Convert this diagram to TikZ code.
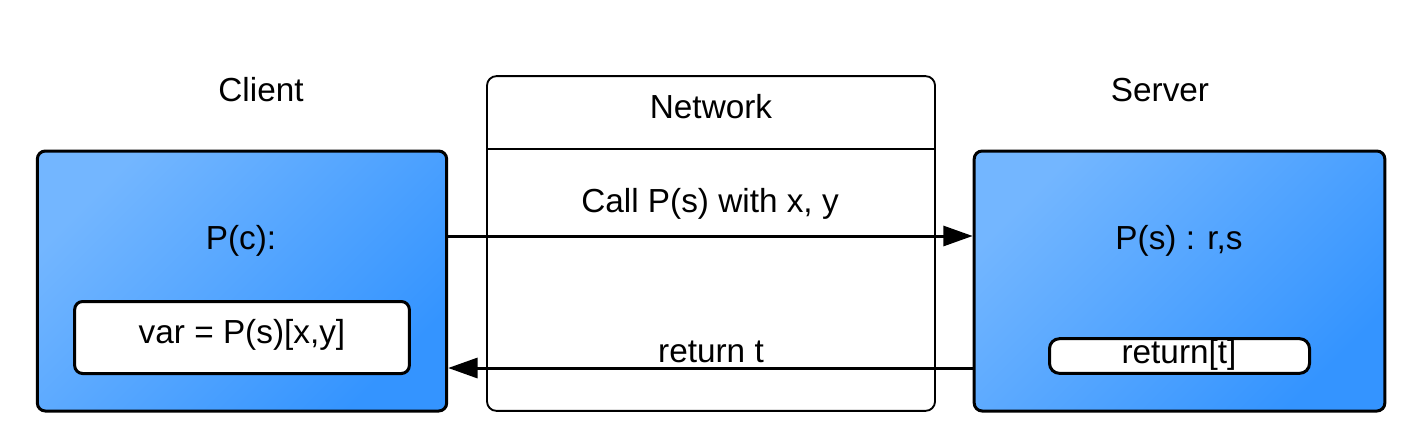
\documentclass[tikz,border=0pt]{standalone}
\usepackage{fontspec}
\setmainfont{Liberation Sans}
\usetikzlibrary{arrows.meta}
\definecolor{bluelight}{RGB}{115,182,255}
\definecolor{bluedark}{RGB}{52,148,255}
\begin{document}
\begin{tikzpicture}[x=0.75pt,y=-0.75pt,
  every node/.style={font=\fontsize{25}{30}\selectfont, inner sep=0pt},
  lbl/.style={anchor=base},
  bluebox/.style={draw=black, line width=2.25pt, rounded corners=6pt,
    left color=bluelight, right color=bluedark, shading angle=45},
  whitebox/.style={draw=black, fill=white, line width=2.25pt, rounded corners=6pt},
  netbox/.style={draw=black, line width=1.4pt, rounded corners=7pt},
  arr/.style={line width=2.25pt, -{Triangle[length=22pt,width=15pt]}}
]
\useasboundingbox (0,0) rectangle (1412,444);

\node[bluebox, minimum width=307pt, minimum height=195pt] (client) at (242,281) {};
\node[bluebox, minimum width=308pt, minimum height=195pt] (server) at (1179.5,281) {};
\node[netbox, minimum width=336pt, minimum height=251pt] (net) at (711,243.5) {};
\draw[line width=1.4pt] ([yshift=-55.5pt]net.north west) -- ([yshift=-55.5pt]net.north east);

\node[whitebox, minimum width=251pt, minimum height=54pt] (varbox) at (242,337.5) {};
\node[whitebox, rounded corners=7.5pt, minimum width=195pt, minimum height=26pt] (retbox) at (1179.5,356) {};

\node[lbl] (clientlbl) at (261,101) {Client};
\node[lbl] (serverlbl) at (1160,101) {Server};
\node[lbl] (netlbl) at (711,118) {Network};
\node[lbl] (pc) at (241,249) {P(c):};
\node[lbl] (vartxt) at (242,343) {var = P(s)[x,y]};
\node[lbl] (ps) at (1179,249) {P(s) : r,s};
\node[lbl] (rettxt) at (1179,363) {return[t]};
\node[lbl] (calllbl) at (710,212) {Call P(s) with x, y};
\node[lbl] (retlbl) at (711,362) {return t};

\draw[arr] ([yshift=33.75pt]client.east) -- ([yshift=33.75pt]server.west);
\draw[arr] ([yshift=-65.25pt]server.west) -- ([yshift=-65.25pt]client.east);
\end{tikzpicture}
\end{document}
